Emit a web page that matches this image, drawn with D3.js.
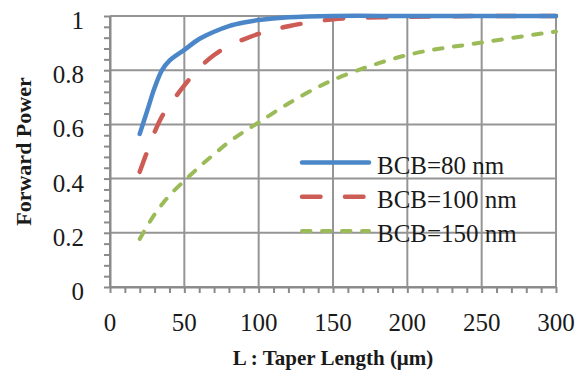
<!DOCTYPE html>
<html>
<head>
<meta charset="utf-8">
<script src="https://cdn.jsdelivr.net/npm/d3@7"></script>
<style>
  html, body { margin: 0; padding: 0; background: #fff; }
  svg { display: block; }
</style>
</head>
<body>
<figure id="chart" style="margin:0"></figure>
<script>
// taper length (um) and forward power per BCB thickness
const taperLen = [20, 25, 30, 35, 40, 50, 60, 70, 80, 90, 100, 120, 150, 200, 250, 300];
const bcb80 = [0.565, 0.65, 0.735, 0.80, 0.835, 0.875, 0.915, 0.942, 0.963, 0.976, 0.985, 0.995, 1.0, 1.0, 1.0, 1.0];
const bcb100 = [0.425, 0.50, 0.572, 0.63, 0.67, 0.744, 0.808, 0.856, 0.89, 0.914, 0.934, 0.962, 0.988, 0.997, 1.0, 1.0];
const bcb150 = [0.177, 0.225, 0.268, 0.305, 0.338, 0.392, 0.443, 0.49, 0.535, 0.573, 0.607, 0.677, 0.764, 0.856, 0.902, 0.943];
const seriesNames = ['BCB=80 nm', 'BCB=100 nm', 'BCB=150 nm'];
const xTicks = [0, 50, 100, 150, 200, 250, 300];
const yTicks = [0, 0.2, 0.4, 0.6, 0.8, 1];
const xLabel = 'L : Taper Length (\u03bcm)';
const yLabel = 'Forward Power';

const width = 578, height = 372;
const mLeft = 110, mRight = 556, mTop = 16, mBottom = 287;

const svg = d3.select('figure#chart').append('svg')
  .attr('width', width).attr('height', height);

const xScale = d3.scaleLinear().domain([0, 300]).range([mLeft, mRight]);
const yScale = d3.scaleLinear().domain([0, 1]).range([mBottom, mTop]);

const gridColor = '#959595';
const serif = "'Liberation Serif', 'Times New Roman', serif";

// gridlines
svg.append('g')
  .selectAll('line')
  .data(xTicks)
  .join('line')
  .attr('x1', d => xScale(d)).attr('x2', d => xScale(d))
  .attr('y1', mTop).attr('y2', mBottom)
  .style('stroke', gridColor).style('stroke-width', 2);

svg.append('g')
  .selectAll('line')
  .data(yTicks)
  .join('line')
  .attr('x1', mLeft).attr('x2', mRight)
  .attr('y1', d => yScale(d)).attr('y2', d => yScale(d))
  .style('stroke', gridColor).style('stroke-width', 2);

// minor + major ticks via axes
const xAxis = d3.axisBottom(xScale)
  .tickValues(d3.range(0, 301, 10))
  .tickSize(6).tickSizeOuter(0).tickFormat('');
const yAxis = d3.axisLeft(yScale)
  .tickValues(d3.range(0, 26).map(i => i * 0.04))
  .tickSize(6).tickSizeOuter(0).tickFormat('');

const gx = svg.append('g')
  .attr('transform', `translate(0,${mBottom})`)
  .call(xAxis);
const gy = svg.append('g')
  .attr('transform', `translate(${mLeft},0)`)
  .call(yAxis);
[gx, gy].forEach(g => {
  g.select('.domain').style('stroke', '#8a8a8a').style('stroke-width', 2);
  g.selectAll('.tick line').style('stroke', '#8a8a8a').style('stroke-width', 2);
});

// tick labels
svg.append('g')
  .selectAll('text')
  .data(xTicks)
  .join('text')
  .attr('x', d => xScale(d))
  .attr('y', mBottom + 44)
  .attr('text-anchor', 'middle')
  .style('font-family', serif)
  .style('font-size', '25px')
  .style('fill', '#1a1a1a')
  .text(d => d);

svg.append('g')
  .selectAll('text')
  .data(yTicks)
  .join('text')
  .attr('x', 84)
  .attr('y', d => yScale(d) + 13)
  .attr('text-anchor', 'end')
  .style('font-family', serif)
  .style('font-size', '25px')
  .style('fill', '#1a1a1a')
  .text(d => d);

// axis titles
svg.append('text')
  .attr('x', (mLeft + mRight) / 2)
  .attr('y', 365)
  .attr('text-anchor', 'middle')
  .style('font-family', serif)
  .style('font-weight', 'bold')
  .style('font-size', '21px')
  .style('fill', '#1a1a1a')
  .text(xLabel);

svg.append('text')
  .attr('transform', `translate(31,${(mTop + mBottom) / 2}) rotate(-90)`)
  .attr('text-anchor', 'middle')
  .style('font-family', serif)
  .style('font-weight', 'bold')
  .style('font-size', '22px')
  .style('fill', '#1a1a1a')
  .text(yLabel);

// series
const styles = [
  { color: '#4a86c8', dash: null, w: 4.5 },
  { color: '#cd5c55', dash: '18.5,24.5', w: 4.5 },
  { color: '#9bbb59', dash: '8.5,11.5', w: 4 }
];
const data = [bcb80, bcb100, bcb150].map((vals, k) =>
  vals.map((v, i) => ({ name: seriesNames[k], L: taperLen[i], p: v })));

const line = d3.line()
  .x(d => xScale(d.L))
  .y(d => yScale(d.p))
  .curve(d3.curveCatmullRom.alpha(0.5));

svg.append('g')
  .selectAll('path')
  .data(data.slice().reverse())
  .join('path')
  .attr('d', line)
  .style('fill', 'none')
  .style('stroke', (d) => styles[seriesNames.indexOf(d[0].name)].color)
  .style('stroke-width', (d) => styles[seriesNames.indexOf(d[0].name)].w)
  .style('stroke-dasharray', (d) => styles[seriesNames.indexOf(d[0].name)].dash)
  .style('stroke-linecap', 'round')
  .style('stroke-linejoin', 'round');

// legend
const legend = svg.append('g')
  .selectAll('g')
  .data(seriesNames)
  .join('g')
  .attr('transform', (d, i) => `translate(302,${162.5 + i * 34.3})`);

legend.append('line')
  .attr('x1', 0).attr('x2', 67)
  .attr('y1', 0).attr('y2', 0)
  .style('stroke', (d, i) => styles[i].color)
  .style('stroke-width', (d, i) => styles[i].w)
  .style('stroke-dasharray', (d, i) => styles[i].dash)
  .style('stroke-linecap', 'round');

legend.append('text')
  .attr('x', 75)
  .attr('y', 11)
  .style('font-family', serif)
  .style('font-size', '25px')
  .style('fill', '#1a1a1a')
  .text(d => d);
</script>
</body>
</html>
